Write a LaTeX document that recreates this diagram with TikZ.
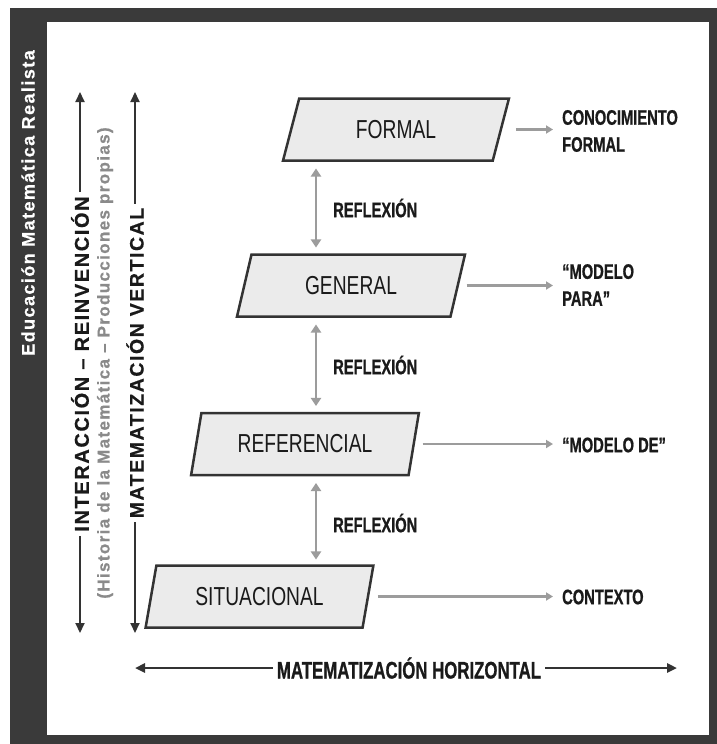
\documentclass[tikz,border=0pt]{standalone}
\usepackage{fontspec}
\setmainfont{Liberation Sans}
\newfontfamily\nar[FakeStretch=0.74]{Liberation Sans}
\newfontfamily\nbf[FakeStretch=0.70,FakeBold=0.8]{Liberation Sans Bold}
\newfontfamily\spc[LetterSpace=8,FakeBold=0.5]{Liberation Sans Bold}
\usetikzlibrary{shapes.geometric,arrows.meta}
\definecolor{framecol}{HTML}{3A3A3A}
\definecolor{boxfill}{HTML}{EBEBEB}
\definecolor{boxline}{HTML}{333333}
\definecolor{garrow}{HTML}{9C9C9C}
\definecolor{darkarrow}{HTML}{333333}
\definecolor{txt}{HTML}{1A1A1A}
\definecolor{graytxt}{HTML}{8A8A8A}
\begin{document}
\begin{tikzpicture}[x=1pt,y=-1pt,
 level/.style={trapezium, trapezium left angle=70, trapezium right angle=110,
   trapezium stretches=true, minimum width=228pt, minimum height=62pt,
   inner sep=0pt, outer sep=0pt, draw=boxline, line width=2.5pt, fill=boxfill,
   font=\nar\fontsize{26}{28}\selectfont, text=txt},
 lab/.style={font=\nbf\fontsize{21}{27}\selectfont, text=txt, align=left, anchor=west, inner sep=0pt},
 refl/.style={draw=garrow, line width=2.5pt, {Triangle[length=8pt,width=10pt]}-{Triangle[length=8pt,width=10pt]}},
 harrow/.style={draw=garrow, line width=2.5pt, -{Triangle[length=7pt,width=8pt]}},
 darr/.style={draw=darkarrow, line width=2pt, -{Triangle[length=10pt,width=9pt]}},
 vtext/.style={rotate=90, inner sep=4pt, text=txt},
]
% frame
\fill[white] (0,0) rectangle (717,744);
\fill[framecol] (10,8) rectangle (717,744);
\fill[white] (47,22) rectangle (709,735);
\useasboundingbox (0,0) rectangle (717,744);

% title
\node[rotate=90, text=white, font=\spc\fontsize{18}{20}\selectfont] (title) at (28,203) {Educación Matemática Realista};

% left vertical arrows
\node[vtext, font=\spc\fontsize{20}{22}\selectfont] (ia) at (80,364) {INTERACCIÓN – REINVENCIÓN};
\coordinate (iaT) at (80,92);
\coordinate (iaB) at (80,633);
\draw[darr] (ia.east) -- (iaT);
\draw[darr] (ia.west) -- (iaB);

\node[vtext, text=graytxt, inner sep=0pt, font=\spc\fontsize{17}{20}\selectfont] (hist) at (105,363) {(Historia de la Matemática – Producciones propias)};

\node[vtext, font=\spc\fontsize{19.5}{22}\selectfont] (mv) at (135,363) {MATEMATIZACIÓN VERTICAL};
\coordinate (mvT) at (135,92);
\coordinate (mvB) at (135,633);
\draw[darr] (mv.east) -- (mvT);
\draw[darr] (mv.west) -- (mvB);

% levels
\node[level] (F) at (396,129.5) {FORMAL};
\node[level] (G) at (351,285.5) {GENERAL};
\node[level] (R) at (305,444) {REFERENCIAL};
\node[level] (S) at (259.5,596.5) {SITUACIONAL};

% reflexion arrows
\coordinate (rx) at (316,0);
\draw[refl, shorten <=8pt, shorten >=7pt] (F.south -| rx) -- (G.north -| rx);
\draw[refl, shorten <=8pt, shorten >=7pt] (G.south -| rx) -- (R.north -| rx);
\draw[refl, shorten <=8pt, shorten >=6pt] (R.south -| rx) -- (S.north -| rx);
\node[lab] (r1) at (333,208) {REFLEXIÓN};
\node[lab] (r2) at (333,365) {REFLEXIÓN};
\node[lab] (r3) at (333,523) {REFLEXIÓN};

% right labels
\node[lab] (cf) at (562,131) {CONOCIMIENTO\\FORMAL};
\node[lab] (mp) at (562,285) {“MODELO\\PARA”};
\node[lab] (md) at (562,445) {“MODELO DE”};
\node[lab] (ctx) at (562,597) {CONTEXTO};

\draw[harrow, shorten >=9pt] ([xshift=15pt]F.east) -- (F.east -| cf.west);
\draw[harrow, shorten >=9pt] ([xshift=9pt]G.east) -- (G.east -| mp.west);
\draw[harrow, shorten >=9pt] ([xshift=9pt]R.east) -- (R.east -| md.west);
\draw[harrow, shorten >=9pt] ([xshift=10pt]S.east) -- (S.east -| ctx.west);

% horizontal
\node[font=\nbf\fontsize{24}{26}\selectfont, text=txt, inner sep=4pt] (mh) at (409,668) {MATEMATIZACIÓN HORIZONTAL};
\coordinate (mhL) at (135,668);
\coordinate (mhR) at (677,668);
\draw[darr, line width=2.5pt] (mh.west) -- (mhL);
\draw[darr, line width=2.5pt] (mh.east) -- (mhR);
\end{tikzpicture}
\end{document}
